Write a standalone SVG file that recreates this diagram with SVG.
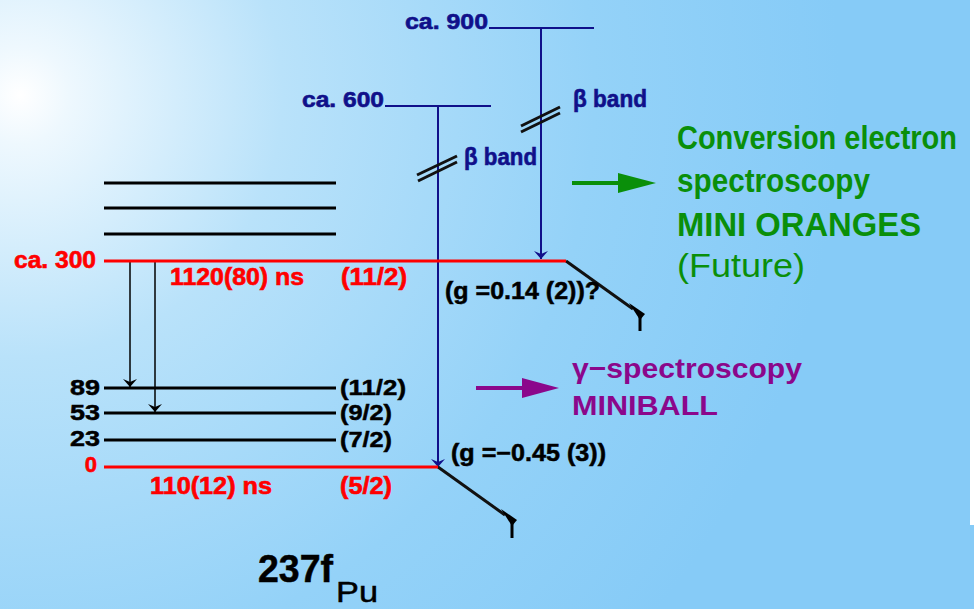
<svg xmlns="http://www.w3.org/2000/svg" width="974" height="609" viewBox="0 0 974 609">
<defs>
<radialGradient id="bg" cx="20" cy="95" r="820" gradientUnits="userSpaceOnUse">
<stop offset="0" stop-color="#ffffff"/>
<stop offset="0.06" stop-color="#eef8fe"/>
<stop offset="0.32" stop-color="#b9e2fa"/>
<stop offset="0.7" stop-color="#94d2f8"/>
<stop offset="1" stop-color="#86cbf7"/>
</radialGradient>
<marker id="ak" viewBox="0 0 8 14" refX="8" refY="7" markerWidth="8" markerHeight="14" markerUnits="userSpaceOnUse" orient="auto"><path d="M0,0 L8,7 L0,14 L3,7 Z" fill="#000"/></marker>
<marker id="ab" viewBox="0 0 8 14" refX="8" refY="7" markerWidth="8" markerHeight="14" markerUnits="userSpaceOnUse" orient="auto"><path d="M0,0 L8,7 L0,14 L3,7 Z" fill="#10108a"/></marker>
</defs>
<style>
text{font-family:"Liberation Sans",Arial,sans-serif;font-weight:bold}
.blu{fill:#10108a;stroke:#10108a;stroke-width:0.6}
.red{fill:#ff0000;stroke:#ff0000;stroke-width:0.6}
.blk{fill:#000;stroke:#000;stroke-width:0.5}
.grn{fill:#0a8f0a}
.pur{fill:#8b078b}
.lv{stroke:#000;stroke-width:3}
.rl{stroke:#ff0000;stroke-width:3}
.bl{stroke:#10108a;stroke-width:2}
.bk{stroke:#111;stroke-width:3}
</style>
<rect width="974" height="609" fill="url(#bg)"/>
<rect x="970" y="0" width="4" height="525" fill="#ffffff"/>

<g id="connectors" fill="none">
<line x1="541" y1="28" x2="541" y2="259" class="bl" marker-end="url(#ab)"/>
<line x1="438" y1="106" x2="438" y2="467" class="bl" marker-end="url(#ab)"/>
<line x1="521" y1="126" x2="560" y2="107" class="bk"/>
<line x1="521" y1="132" x2="560" y2="113" class="bk"/>
<line x1="417" y1="175" x2="457" y2="156" class="bk"/>
<line x1="418" y1="181" x2="457" y2="162" class="bk"/>
<line x1="130" y1="261" x2="130" y2="387" stroke="#000" stroke-width="1.5" marker-end="url(#ak)"/>
<line x1="155" y1="261" x2="155" y2="412" stroke="#000" stroke-width="1.5" marker-end="url(#ak)"/>
<path d="M566,261 L633,309" class="bk"/>
<path d="M629,303 L645,314 L640,320 Z" fill="#000"/>
<line x1="640" y1="314" x2="640" y2="331" stroke="#000" stroke-width="3"/>
<path d="M438,467 L505,515" class="bk"/>
<path d="M501,509 L517,520 L512,526 Z" fill="#000"/>
<line x1="512" y1="520" x2="512" y2="538" stroke="#000" stroke-width="3"/>
<line x1="572" y1="183" x2="620" y2="183" stroke="#0a8f0a" stroke-width="4"/>
<path d="M618,173 L656,183 L618,193 Z" fill="#0a8f0a"/>
<line x1="476" y1="388" x2="524" y2="388" stroke="#8b078b" stroke-width="4"/>
<path d="M522,378 L559,388 L522,398 Z" fill="#8b078b"/>
</g>

<g id="level-900">
<line x1="489" y1="28" x2="594" y2="28" class="bl" stroke-width="3"/>
<text x="405" y="29" font-size="22" class="blu" textLength="83" lengthAdjust="spacingAndGlyphs">ca. 900</text>
<text x="573" y="107" font-size="24" class="blu" textLength="74" lengthAdjust="spacingAndGlyphs">β band</text>
</g>
<g id="level-600">
<line x1="385" y1="106" x2="491" y2="106" class="bl" stroke-width="3"/>
<text x="302" y="107" font-size="22" class="blu" textLength="82" lengthAdjust="spacingAndGlyphs">ca. 600</text>
<text x="464" y="165" font-size="24" class="blu" textLength="73" lengthAdjust="spacingAndGlyphs">β band</text>
</g>
<g id="upper-levels">
<line x1="104" y1="183" x2="336" y2="183" class="lv"/>
<line x1="104" y1="208" x2="336" y2="208" class="lv"/>
<line x1="104" y1="234" x2="336" y2="234" class="lv"/>
</g>
<g id="level-300">
<line x1="104" y1="261" x2="566" y2="261" class="rl"/>
<text x="14" y="268" font-size="23" class="red" textLength="82" lengthAdjust="spacingAndGlyphs">ca. 300</text>
<text x="170" y="285" font-size="23" class="red" textLength="134" lengthAdjust="spacingAndGlyphs">1120(80) ns</text>
<text x="341" y="285" font-size="23" class="red" textLength="66" lengthAdjust="spacingAndGlyphs">(11/2)</text>
<text x="445" y="299" font-size="23" class="blk" textLength="155" lengthAdjust="spacingAndGlyphs">(g =0.14 (2))?</text>
</g>
<g id="level-89">
<line x1="104" y1="388" x2="336" y2="388" class="lv"/>
<text x="100" y="395" font-size="22" class="blk" text-anchor="end" textLength="30" lengthAdjust="spacingAndGlyphs">89</text>
<text x="340" y="395" font-size="22" class="blk" textLength="66" lengthAdjust="spacingAndGlyphs">(11/2)</text>
</g>
<g id="level-53">
<line x1="104" y1="413" x2="336" y2="413" class="lv"/>
<text x="100" y="420" font-size="22" class="blk" text-anchor="end" textLength="30" lengthAdjust="spacingAndGlyphs">53</text>
<text x="340" y="420" font-size="22" class="blk" textLength="52" lengthAdjust="spacingAndGlyphs">(9/2)</text>
</g>
<g id="level-23">
<line x1="104" y1="440" x2="336" y2="440" class="lv"/>
<text x="100" y="446" font-size="22" class="blk" text-anchor="end" textLength="30" lengthAdjust="spacingAndGlyphs">23</text>
<text x="340" y="447" font-size="22" class="blk" textLength="52" lengthAdjust="spacingAndGlyphs">(7/2)</text>
</g>
<g id="level-0">
<line x1="104" y1="467" x2="438" y2="467" class="rl" stroke-width="2"/>
<text x="97" y="472" font-size="22" class="red" text-anchor="end">0</text>
<text x="150" y="494" font-size="23" class="red" textLength="122" lengthAdjust="spacingAndGlyphs">110(12) ns</text>
<text x="340" y="494" font-size="23" class="red" textLength="52" lengthAdjust="spacingAndGlyphs">(5/2)</text>
<text x="451" y="461" font-size="23" class="blk" textLength="155" lengthAdjust="spacingAndGlyphs">(g =−0.45 (3))</text>
</g>
<g id="conversion-electron">
<text x="677" y="149" font-size="33" class="grn" textLength="280" lengthAdjust="spacingAndGlyphs">Conversion electron</text>
<text x="677" y="192" font-size="33" class="grn" textLength="193" lengthAdjust="spacingAndGlyphs">spectroscopy</text>
<text x="677" y="236" font-size="33" class="grn" textLength="244" lengthAdjust="spacingAndGlyphs">MINI ORANGES</text>
<text x="677" y="277" font-size="33" class="grn" style="font-weight:normal" textLength="128" lengthAdjust="spacingAndGlyphs">(Future)</text>
</g>
<g id="gamma-spectroscopy">
<text x="572" y="378" font-size="28" class="pur" textLength="230" lengthAdjust="spacingAndGlyphs">γ−spectroscopy</text>
<text x="572" y="415" font-size="28" class="pur" textLength="146" lengthAdjust="spacingAndGlyphs">MINIBALL</text>
</g>
<g id="nucleus-label">
<text x="258" y="582" font-size="38" class="blk" textLength="75" lengthAdjust="spacingAndGlyphs">237f</text>
<text x="336" y="602" font-size="30" class="blk" style="font-weight:normal" textLength="42" lengthAdjust="spacingAndGlyphs">Pu</text>
</g>
</svg>
